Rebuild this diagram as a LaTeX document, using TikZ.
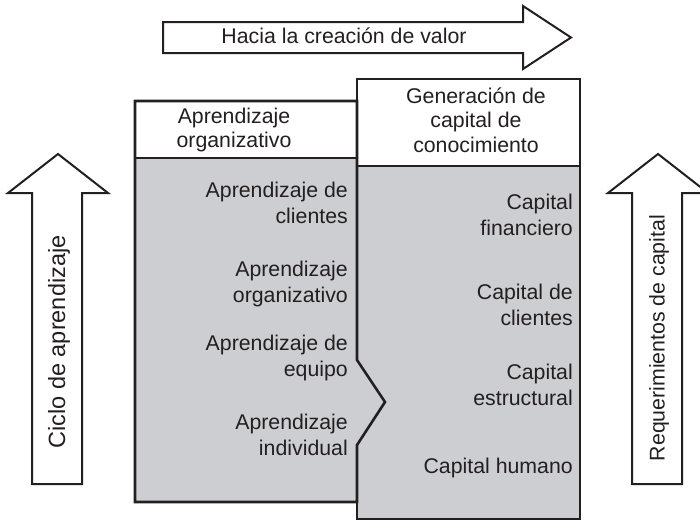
\documentclass[tikz,border=0pt]{standalone}
\usepackage{fontspec}
\setmainfont{Liberation Sans}
\definecolor{boxgrey}{RGB}{205,206,209}
\definecolor{ink}{RGB}{35,31,32}
\begin{document}
\begin{tikzpicture}[x=1pt,y=-1pt,
  boxline/.style={draw=ink,line width=2.6pt,line join=miter},
  arrowline/.style={draw=ink,fill=white,line width=2pt,line join=miter},
  lbl/.style={text=ink,inner sep=0pt,font=\fontsize{21.3}{25.5}\selectfont},
  lblr/.style={lbl,align=right,anchor=base east},
  lblc/.style={lbl,align=center,anchor=base}]
\useasboundingbox (0,0) rectangle (700,530);
\clip (0,0) rectangle (700,530);
% top arrow
\draw[arrowline] (163,22) -- (523,22) -- (523,6) -- (571,37.5) -- (523,69) -- (523,53) -- (163,53) -- cycle;
% left arrow
\draw[arrowline] (32,484) -- (32,193) -- (8,193) -- (58,154) -- (108,193) -- (82,193) -- (82,484) -- cycle;
% right arrow
\draw[arrowline] (632,484) -- (632,193) -- (608,193) -- (658,154) -- (708,193) -- (682,193) -- (682,484) -- cycle;
% right box
\fill[white] (357,79) rectangle (580,166);
\fill[boxgrey] (357,166) rectangle (580,519);
\draw[boxline] (357,79) rectangle (580,519);
\draw[boxline] (357,166) -- (580,166);
% left box
\fill[white] (135,101) rectangle (357,158);
\fill[boxgrey] (135,158) -- (357,158) -- (357,360) -- (385,402) -- (357,445) -- (357,502) -- (135,502) -- cycle;
\draw[boxline] (135,101) -- (357,101) -- (357,360) -- (385,402) -- (357,445) -- (357,502) -- (135,502) -- cycle;
\draw[boxline] (135,158) -- (357,158);
% texts (base anchor = baseline of the last line)
\node[lblc] (topt) at (344,43) {Hacia la creación de valor};
\node[lblc,font=\fontsize{21.3}{24}\selectfont] (hl) at (234,147) {Aprendizaje\\organizativo};
\node[lblc,font=\fontsize{21.3}{24.5}\selectfont] (hr) at (476,152) {Generación de\\capital de\\conocimiento};
\node[lblr] (l1) at (348,223) {Aprendizaje de\\clientes};
\node[lblr] (l2) at (348,302) {Aprendizaje\\organizativo};
\node[lblr] (l3) at (348,376) {Aprendizaje de\\equipo};
\node[lblr] (l4) at (348,455) {Aprendizaje\\individual};
\node[lblr] (r1) at (573,235) {Capital\\financiero};
\node[lblr] (r2) at (573,325) {Capital de\\clientes};
\node[lblr] (r3) at (573,405) {Capital\\estructural};
\node[lblr] (r4) at (573,473) {Capital humano};
\node[lbl,rotate=90,font=\fontsize{23.5}{28}\selectfont] (la) at (59,342) {Ciclo de aprendizaje};
\node[lbl,rotate=90] (ra) at (659,338) {Requerimientos de capital};
\end{tikzpicture}
\end{document}
